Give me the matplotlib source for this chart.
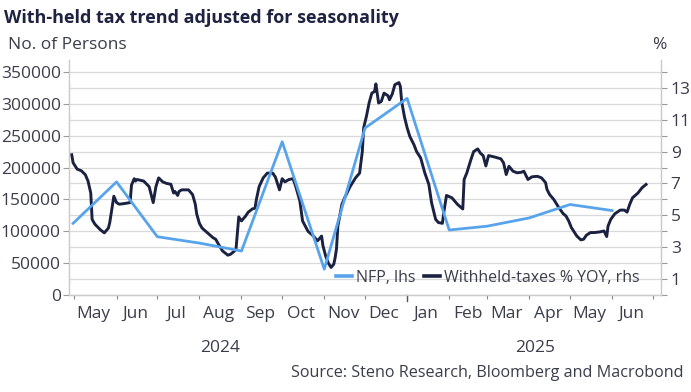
import pandas as pd
import matplotlib.pyplot as plt
import matplotlib.dates as mdates
from matplotlib.ticker import NullFormatter

# =========================
# Data
# =========================
nfp_dates = ["2024-04-30", "2024-06-01", "2024-07-01", "2024-08-01", "2024-09-01",
             "2024-10-01", "2024-11-01", "2024-12-01", "2025-01-01", "2025-02-01",
             "2025-03-01", "2025-04-01", "2025-05-01", "2025-06-01"]
nfp_values = [112500, 177500, 91500, 81500, 69000, 240500, 40500, 262000,
              308500, 102000, 108000, 121000, 142000, 132500]

tax_dates = [
    "2024-04-29", "2024-04-30", "2024-05-03", "2024-05-06", "2024-05-09", "2024-05-11",
    "2024-05-13", "2024-05-14", "2024-05-16", "2024-05-20", "2024-05-23", "2024-05-26",
    "2024-05-27", "2024-05-30", "2024-06-01", "2024-06-03", "2024-06-06", "2024-06-11",
    "2024-06-12", "2024-06-14", "2024-06-15", "2024-06-16", "2024-06-21", "2024-06-25",
    "2024-06-28", "2024-06-30", "2024-07-02", "2024-07-05", "2024-07-08", "2024-07-11",
    "2024-07-13", "2024-07-14", "2024-07-16", "2024-07-17", "2024-07-19", "2024-07-24",
    "2024-07-27", "2024-07-29", "2024-07-30", "2024-08-01", "2024-08-03", "2024-08-07",
    "2024-08-11", "2024-08-13", "2024-08-15", "2024-08-18", "2024-08-22", "2024-08-24",
    "2024-08-27", "2024-08-28", "2024-08-30", "2024-09-01", "2024-09-04", "2024-09-06",
    "2024-09-09", "2024-09-11", "2024-09-12", "2024-09-14", "2024-09-17", "2024-09-20",
    "2024-09-24", "2024-09-26", "2024-09-29", "2024-10-01", "2024-10-03", "2024-10-06",
    "2024-10-09", "2024-10-11", "2024-10-14", "2024-10-16", "2024-10-20", "2024-10-24",
    "2024-10-27", "2024-10-30", "2024-10-31", "2024-11-02", "2024-11-04", "2024-11-06",
    "2024-11-08", "2024-11-09", "2024-11-10", "2024-11-11", "2024-11-14", "2024-11-16",
    "2024-11-20", "2024-11-24", "2024-11-27", "2024-11-29", "2024-11-30", "2024-12-02",
    "2024-12-04", "2024-12-06", "2024-12-08", "2024-12-09", "2024-12-11", "2024-12-13",
    "2024-12-15", "2024-12-18", "2024-12-19", "2024-12-21", "2024-12-23", "2024-12-26",
    "2024-12-27", "2024-12-28", "2024-12-30", "2025-01-01", "2025-01-03", "2025-01-06",
    "2025-01-08", "2025-01-11", "2025-01-14", "2025-01-17", "2025-01-19", "2025-01-22",
    "2025-01-24", "2025-01-27", "2025-01-28", "2025-01-30", "2025-02-03", "2025-02-07",
    "2025-02-11", "2025-02-12", "2025-02-14", "2025-02-17", "2025-02-19", "2025-02-22",
    "2025-02-24", "2025-02-26", "2025-02-28", "2025-03-02", "2025-03-06", "2025-03-11",
    "2025-03-13", "2025-03-15", "2025-03-17", "2025-03-20", "2025-03-23", "2025-03-26",
    "2025-03-28", "2025-03-31", "2025-04-03", "2025-04-07", "2025-04-10", "2025-04-13",
    "2025-04-14", "2025-04-16", "2025-04-19", "2025-04-23", "2025-04-26", "2025-04-28",
    "2025-04-30", "2025-05-02", "2025-05-06", "2025-05-09", "2025-05-11", "2025-05-13",
    "2025-05-16", "2025-05-19", "2025-05-23", "2025-05-26", "2025-05-28", "2025-05-29",
    "2025-05-31", "2025-06-03", "2025-06-07", "2025-06-10", "2025-06-12", "2025-06-14",
    "2025-06-16", "2025-06-20", "2025-06-23", "2025-06-26",
]
tax_values = [
    8.8, 8.3, 7.9, 7.8, 7.55, 7.15,
    6.4, 4.75, 4.45, 4.1, 3.9, 4.2,
    4.55, 6.2, 5.8, 5.7, 5.73, 5.8,
    6.9, 7.3, 7.15, 7.25, 7.15, 6.8,
    5.8, 6.8, 7.35, 7.1, 7.0, 6.95,
    6.4, 6.5, 6.25, 6.5, 6.6, 6.6,
    6.3, 5.7, 5.1, 4.5, 4.2, 3.9,
    3.6, 3.5, 3.2, 2.77, 2.5, 2.56,
    2.77, 2.9, 4.9, 4.65, 4.95, 5.2,
    5.4, 5.45, 6.0, 6.8, 7.35, 7.65,
    7.65, 7.4, 6.6, 7.3, 7.1, 7.25,
    7.3, 6.8, 5.9, 4.65, 4.0, 3.7,
    3.4, 3.7, 3.1, 2.45, 2.0, 1.73,
    1.94, 2.35, 2.9, 4.33, 5.7, 6.1,
    6.8, 7.35, 7.65, 9.0, 10.5, 11.2,
    12.05, 12.67, 12.77, 13.25, 12.05, 12.15,
    12.67, 12.5, 12.25, 12.6, 13.2, 13.33,
    13.1, 12.15, 11.2, 10.5, 9.95, 9.44,
    9.0, 8.6, 7.67, 6.94, 5.8, 4.75,
    4.55, 4.5, 5.17, 6.25, 6.1, 5.7,
    5.4, 7.25, 7.67, 8.5, 9.0, 9.17,
    8.9, 8.75, 8.1, 8.75, 8.67, 8.55,
    8.3, 7.56, 8.08, 7.77, 7.67, 7.7,
    7.77, 7.25, 7.42, 7.45, 7.35, 7.05,
    6.63, 6.3, 6.0, 5.45, 5.1, 4.96,
    4.65, 4.23, 3.7, 3.46, 3.5, 3.75,
    3.92, 3.92, 3.96, 4.02, 3.67, 4.33,
    4.75, 5.1, 5.33, 5.33, 5.2, 5.7,
    6.1, 6.4, 6.73, 6.94,
]

month_labels = ["May", "Jun", "Jul", "Aug", "Sep", "Oct", "Nov", "Dec",
                "Jan", "Feb", "Mar", "Apr", "May", "Jun"]
year_labels = ["2024", "2025"]
left_ticks = [0, 50000, 100000, 150000, 200000, 250000, 300000, 350000]
right_ticks = list(range(0, 15))

# =========================
# Style
# =========================
FONT = ["Open Sans", "DejaVu Sans"]
TXT = "#3a3d4a"
GRID = "#d9d9d9"
BLUE = "#58a4ec"
NAVY = "#1b2140"

plt.rcParams["font.family"] = FONT

fig = plt.figure(figsize=(6.91, 3.92), dpi=100)
ax = fig.add_axes([0.0999, 0.2474, 0.8567, 0.5996])
ax2 = ax.twinx()

nfp_x = pd.to_datetime(nfp_dates)
tax_x = pd.to_datetime(tax_dates)

ax.plot(nfp_x, nfp_values, color=BLUE, lw=2.0, label="NFP, lhs", zorder=3)
ax2.plot(tax_x, tax_values, color=NAVY, lw=2.1, label="Withheld-taxes % YOY, rhs", zorder=3)

# blue line on top of navy line
ax.set_zorder(2)
ax.patch.set_visible(False)

ax.set_xlim(pd.Timestamp("2024-04-27"), pd.Timestamp("2025-07-07"))
ax.set_ylim(0, 368750)
ax2.set_ylim(0, 14.75)

# right axis: ticks every 1, labels on odd values, grid every 1 (= 25000 on left)
ax2.set_yticks(right_ticks, ["" if v % 2 == 0 else str(v) for v in right_ticks])
ax2.grid(axis="y", color=GRID, lw=0.9, zorder=0)
ax2.set_axisbelow(True)

ax.set_yticks(left_ticks, [str(v) for v in left_ticks])

# x ticks: month starts as ticks, month names at mid-month
ax.xaxis.set_major_locator(mdates.MonthLocator(bymonthday=1))
ax.xaxis.set_major_formatter(NullFormatter())
mid = pd.date_range("2024-05-01", "2025-06-01", freq="MS") + pd.Timedelta(days=14)
ax.set_xticks(mdates.date2num(mid), month_labels, minor=True)
ax.tick_params(axis="x", which="minor", length=0, pad=8, labelsize=12.5, labelcolor=TXT)
ax.tick_params(axis="x", which="major", length=3, color="#888888", width=0.8)

# longer tick at the year boundary
ax.plot([mdates.date2num(pd.Timestamp("2025-01-01"))] * 2, [0, -0.025],
        transform=ax.get_xaxis_transform(), color="#555555", lw=1.0, clip_on=False)

for lbl, d in zip(year_labels, ["2024-08-16", "2025-04-05"]):
    ax.text(mdates.date2num(pd.Timestamp(d)), -0.225, lbl, transform=ax.get_xaxis_transform(),
            ha="center", va="center", fontsize=12.5, color=TXT)

ax.tick_params(axis="y", length=4, color="#999999", labelsize=12.5, labelcolor=TXT, pad=2)
ax2.tick_params(axis="y", length=4, color="#999999", labelsize=12.5, labelcolor=TXT, pad=3)

for a in (ax, ax2):
    a.spines["top"].set_visible(False)
    for s in ("left", "right", "bottom"):
        a.spines[s].set_color("#cccccc")
        a.spines[s].set_linewidth(0.9)

# =========================
# Texts
# =========================
fig.text(0.006, 0.955, "With-held tax trend adjusted for seasonality", fontsize=13,
         fontweight="bold", color="#1f2240", ha="left", va="center")
fig.text(0.012, 0.885, "No. of Persons", fontsize=12.5, color=TXT, ha="left", va="center")
fig.text(0.954, 0.885, "%", fontsize=12.5, color=TXT, ha="center", va="center")
fig.text(0.989, 0.048, "Source: Steno Research, Bloomberg and Macrobond", fontsize=11.6,
         color=TXT, ha="right", va="center")

h1, l1 = ax.get_legend_handles_labels()
h2, l2 = ax2.get_legend_handles_labels()
leg = ax.legend(h1 + h2, l1 + l2, loc="lower right", bbox_to_anchor=(0.985, -0.015),
                ncol=2, frameon=False, fontsize=11.5, handlelength=1.0,
                handletextpad=0.25, columnspacing=0.5, borderpad=0.3)
for t in leg.get_texts():
    t.set_color(TXT)
for ln in leg.get_lines():
    ln.set_linewidth(2.6)

fig.savefig("out.png", dpi=100)
